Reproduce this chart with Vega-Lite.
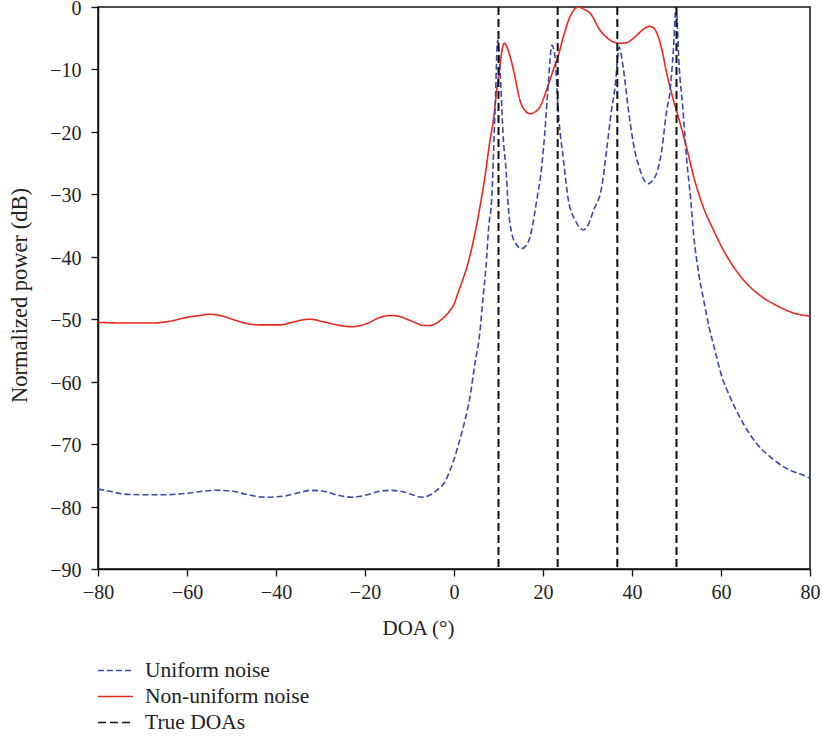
{
  "$schema": "https://vega.github.io/schema/vega-lite/v6.json",
  "width": 712,
  "height": 562,
  "autosize": {"type": "none"},
  "padding": {"left": 98, "top": 7, "right": 13, "bottom": 168},
  "background": "white",
  "config": {
    "view": {"stroke": "#111111", "strokeWidth": 1.5},
    "axis": {
      "grid": false,
      "domainColor": "#111111",
      "domainWidth": 1.5,
      "tickColor": "#111111",
      "tickWidth": 1.3,
      "tickSize": 7,
      "labelFont": "Liberation Serif",
      "labelFontSize": 20,
      "labelColor": "#222222",
      "labelFlush": false,
      "titleFont": "Liberation Serif",
      "titleFontSize": 21,
      "titleFontWeight": "normal",
      "titleColor": "#222222"
    },
    "legend": {
      "labelFont": "Liberation Serif",
      "labelFontSize": 21.5,
      "labelColor": "#222222",
      "labelLimit": 500
    }
  },
  "datasets": {
    "curves": [
      {"series": "Non-uniform noise", "doa": -80, "power": -50.5},
      {"series": "Non-uniform noise", "doa": -75, "power": -50.6},
      {"series": "Non-uniform noise", "doa": -70, "power": -50.6},
      {"series": "Non-uniform noise", "doa": -67.6, "power": -50.6},
      {"series": "Non-uniform noise", "doa": -64.5, "power": -50.4},
      {"series": "Non-uniform noise", "doa": -60, "power": -49.7},
      {"series": "Non-uniform noise", "doa": -57, "power": -49.4},
      {"series": "Non-uniform noise", "doa": -55, "power": -49.2},
      {"series": "Non-uniform noise", "doa": -52, "power": -49.5},
      {"series": "Non-uniform noise", "doa": -49, "power": -50.2},
      {"series": "Non-uniform noise", "doa": -46.5, "power": -50.7},
      {"series": "Non-uniform noise", "doa": -44, "power": -50.9},
      {"series": "Non-uniform noise", "doa": -39, "power": -50.9},
      {"series": "Non-uniform noise", "doa": -37, "power": -50.6},
      {"series": "Non-uniform noise", "doa": -35.3, "power": -50.3},
      {"series": "Non-uniform noise", "doa": -32.4, "power": -50.0},
      {"series": "Non-uniform noise", "doa": -29.4, "power": -50.4},
      {"series": "Non-uniform noise", "doa": -25.6, "power": -51.0},
      {"series": "Non-uniform noise", "doa": -23, "power": -51.2},
      {"series": "Non-uniform noise", "doa": -19.6, "power": -50.7},
      {"series": "Non-uniform noise", "doa": -16.6, "power": -49.7},
      {"series": "Non-uniform noise", "doa": -14, "power": -49.4},
      {"series": "Non-uniform noise", "doa": -12, "power": -49.6},
      {"series": "Non-uniform noise", "doa": -10.6, "power": -50.0},
      {"series": "Non-uniform noise", "doa": -8.5, "power": -50.6},
      {"series": "Non-uniform noise", "doa": -6.9, "power": -51.0},
      {"series": "Non-uniform noise", "doa": -5.4, "power": -51.0},
      {"series": "Non-uniform noise", "doa": -3.1, "power": -50.2},
      {"series": "Non-uniform noise", "doa": -1.0, "power": -48.7},
      {"series": "Non-uniform noise", "doa": 0, "power": -47.6},
      {"series": "Non-uniform noise", "doa": 1, "power": -45.6},
      {"series": "Non-uniform noise", "doa": 2, "power": -43.6},
      {"series": "Non-uniform noise", "doa": 3, "power": -41.4},
      {"series": "Non-uniform noise", "doa": 4, "power": -38.6},
      {"series": "Non-uniform noise", "doa": 5, "power": -35.2},
      {"series": "Non-uniform noise", "doa": 6, "power": -31.3},
      {"series": "Non-uniform noise", "doa": 7, "power": -27.0},
      {"series": "Non-uniform noise", "doa": 8, "power": -21.8},
      {"series": "Non-uniform noise", "doa": 9, "power": -17.3},
      {"series": "Non-uniform noise", "doa": 9.6, "power": -13.3},
      {"series": "Non-uniform noise", "doa": 10.3, "power": -9.6},
      {"series": "Non-uniform noise", "doa": 10.8, "power": -6.9},
      {"series": "Non-uniform noise", "doa": 11.3, "power": -5.8},
      {"series": "Non-uniform noise", "doa": 12.0, "power": -6.6},
      {"series": "Non-uniform noise", "doa": 12.6, "power": -7.9},
      {"series": "Non-uniform noise", "doa": 13.7, "power": -11.2},
      {"series": "Non-uniform noise", "doa": 14.8, "power": -14.9},
      {"series": "Non-uniform noise", "doa": 16.0, "power": -16.6},
      {"series": "Non-uniform noise", "doa": 17.1, "power": -17.1},
      {"series": "Non-uniform noise", "doa": 18.2, "power": -16.8},
      {"series": "Non-uniform noise", "doa": 19.3, "power": -16.0},
      {"series": "Non-uniform noise", "doa": 20.8, "power": -13.3},
      {"series": "Non-uniform noise", "doa": 22.3, "power": -10.1},
      {"series": "Non-uniform noise", "doa": 23.4, "power": -7.9},
      {"series": "Non-uniform noise", "doa": 24.6, "power": -4.7},
      {"series": "Non-uniform noise", "doa": 26.1, "power": -1.5},
      {"series": "Non-uniform noise", "doa": 27.3, "power": -0.2},
      {"series": "Non-uniform noise", "doa": 28.0, "power": 0},
      {"series": "Non-uniform noise", "doa": 29.0, "power": -0.3},
      {"series": "Non-uniform noise", "doa": 30.6, "power": -1.0},
      {"series": "Non-uniform noise", "doa": 32.8, "power": -3.7},
      {"series": "Non-uniform noise", "doa": 34.5, "power": -5.0},
      {"series": "Non-uniform noise", "doa": 35.8, "power": -5.6},
      {"series": "Non-uniform noise", "doa": 37.5, "power": -5.8},
      {"series": "Non-uniform noise", "doa": 38.8, "power": -5.7},
      {"series": "Non-uniform noise", "doa": 40.0, "power": -5.2},
      {"series": "Non-uniform noise", "doa": 41.1, "power": -4.5},
      {"series": "Non-uniform noise", "doa": 42.5, "power": -3.6},
      {"series": "Non-uniform noise", "doa": 43.9, "power": -3.1},
      {"series": "Non-uniform noise", "doa": 44.9, "power": -3.4},
      {"series": "Non-uniform noise", "doa": 45.6, "power": -4.2},
      {"series": "Non-uniform noise", "doa": 46.7, "power": -6.8},
      {"series": "Non-uniform noise", "doa": 47.8, "power": -10.6},
      {"series": "Non-uniform noise", "doa": 49.3, "power": -14.9},
      {"series": "Non-uniform noise", "doa": 50.8, "power": -18.6},
      {"series": "Non-uniform noise", "doa": 52.3, "power": -22.6},
      {"series": "Non-uniform noise", "doa": 53.8, "power": -27.0},
      {"series": "Non-uniform noise", "doa": 56.0, "power": -32.0},
      {"series": "Non-uniform noise", "doa": 58.3, "power": -35.7},
      {"series": "Non-uniform noise", "doa": 60.5, "power": -38.9},
      {"series": "Non-uniform noise", "doa": 62.8, "power": -41.6},
      {"series": "Non-uniform noise", "doa": 65.8, "power": -44.3},
      {"series": "Non-uniform noise", "doa": 68.8, "power": -46.2},
      {"series": "Non-uniform noise", "doa": 72.5, "power": -47.8},
      {"series": "Non-uniform noise", "doa": 76.3, "power": -49.0},
      {"series": "Non-uniform noise", "doa": 80.0, "power": -49.5},

      {"series": "Uniform noise", "doa": -80, "power": -77.2},
      {"series": "Uniform noise", "doa": -77, "power": -77.6},
      {"series": "Uniform noise", "doa": -74.4, "power": -78.0},
      {"series": "Uniform noise", "doa": -70, "power": -78.1},
      {"series": "Uniform noise", "doa": -65, "power": -78.1},
      {"series": "Uniform noise", "doa": -60.3, "power": -77.9},
      {"series": "Uniform noise", "doa": -57, "power": -77.6},
      {"series": "Uniform noise", "doa": -53.5, "power": -77.4},
      {"series": "Uniform noise", "doa": -50, "power": -77.5},
      {"series": "Uniform noise", "doa": -47, "power": -78.0},
      {"series": "Uniform noise", "doa": -42.3, "power": -78.5},
      {"series": "Uniform noise", "doa": -38, "power": -78.3},
      {"series": "Uniform noise", "doa": -35, "power": -77.8},
      {"series": "Uniform noise", "doa": -32.2, "power": -77.4},
      {"series": "Uniform noise", "doa": -29, "power": -77.6},
      {"series": "Uniform noise", "doa": -26, "power": -78.2},
      {"series": "Uniform noise", "doa": -22.9, "power": -78.5},
      {"series": "Uniform noise", "doa": -20, "power": -78.2},
      {"series": "Uniform noise", "doa": -17, "power": -77.6},
      {"series": "Uniform noise", "doa": -14.4, "power": -77.4},
      {"series": "Uniform noise", "doa": -11, "power": -77.7},
      {"series": "Uniform noise", "doa": -9, "power": -78.2},
      {"series": "Uniform noise", "doa": -7.3, "power": -78.5},
      {"series": "Uniform noise", "doa": -5.5, "power": -78.2},
      {"series": "Uniform noise", "doa": -3.9, "power": -77.4},
      {"series": "Uniform noise", "doa": -2.0, "power": -76.0},
      {"series": "Uniform noise", "doa": -0.9, "power": -74.2},
      {"series": "Uniform noise", "doa": 0.2, "power": -72.0},
      {"series": "Uniform noise", "doa": 1.3, "power": -69.3},
      {"series": "Uniform noise", "doa": 2.5, "power": -66.1},
      {"series": "Uniform noise", "doa": 3.6, "power": -62.4},
      {"series": "Uniform noise", "doa": 4.7, "power": -57.1},
      {"series": "Uniform noise", "doa": 5.7, "power": -52.8},
      {"series": "Uniform noise", "doa": 6.6, "power": -46.0},
      {"series": "Uniform noise", "doa": 7.2, "power": -41.5},
      {"series": "Uniform noise", "doa": 7.8, "power": -35.2},
      {"series": "Uniform noise", "doa": 8.5, "power": -30.4},
      {"series": "Uniform noise", "doa": 8.9, "power": -22.9},
      {"series": "Uniform noise", "doa": 9.3, "power": -14.9},
      {"series": "Uniform noise", "doa": 9.8, "power": -5.3},
      {"series": "Uniform noise", "doa": 10.3, "power": -9.6},
      {"series": "Uniform noise", "doa": 11.1, "power": -21.3},
      {"series": "Uniform noise", "doa": 11.7, "power": -26.1},
      {"series": "Uniform noise", "doa": 12.2, "power": -32.0},
      {"series": "Uniform noise", "doa": 13.0, "power": -36.3},
      {"series": "Uniform noise", "doa": 14.0, "power": -38.0},
      {"series": "Uniform noise", "doa": 15.2, "power": -38.7},
      {"series": "Uniform noise", "doa": 16.2, "power": -38.2},
      {"series": "Uniform noise", "doa": 17.1, "power": -36.8},
      {"series": "Uniform noise", "doa": 18.6, "power": -30.9},
      {"series": "Uniform noise", "doa": 19.7, "power": -25.6},
      {"series": "Uniform noise", "doa": 20.4, "power": -20.2},
      {"series": "Uniform noise", "doa": 21.2, "power": -12.2},
      {"series": "Uniform noise", "doa": 22.0, "power": -6.1},
      {"series": "Uniform noise", "doa": 22.7, "power": -8.0},
      {"series": "Uniform noise", "doa": 23.4, "power": -16.5},
      {"series": "Uniform noise", "doa": 24.6, "power": -24.5},
      {"series": "Uniform noise", "doa": 25.7, "power": -30.9},
      {"series": "Uniform noise", "doa": 27.2, "power": -34.1},
      {"series": "Uniform noise", "doa": 28.2, "power": -35.3},
      {"series": "Uniform noise", "doa": 29.1, "power": -35.7},
      {"series": "Uniform noise", "doa": 30.2, "power": -34.8},
      {"series": "Uniform noise", "doa": 31.4, "power": -32.5},
      {"series": "Uniform noise", "doa": 33.2, "power": -28.8},
      {"series": "Uniform noise", "doa": 34.3, "power": -22.9},
      {"series": "Uniform noise", "doa": 35.4, "power": -16.5},
      {"series": "Uniform noise", "doa": 36.2, "power": -12.8},
      {"series": "Uniform noise", "doa": 37.1, "power": -6.4},
      {"series": "Uniform noise", "doa": 38.0, "power": -9.6},
      {"series": "Uniform noise", "doa": 39.2, "power": -16.5},
      {"series": "Uniform noise", "doa": 40.3, "power": -21.8},
      {"series": "Uniform noise", "doa": 41.8, "power": -26.1},
      {"series": "Uniform noise", "doa": 42.8, "power": -27.8},
      {"series": "Uniform noise", "doa": 43.7, "power": -28.3},
      {"series": "Uniform noise", "doa": 44.6, "power": -27.8},
      {"series": "Uniform noise", "doa": 45.5, "power": -26.7},
      {"series": "Uniform noise", "doa": 46.7, "power": -22.9},
      {"series": "Uniform noise", "doa": 47.8, "power": -16.5},
      {"series": "Uniform noise", "doa": 48.5, "power": -13.8},
      {"series": "Uniform noise", "doa": 49.3, "power": -6.9},
      {"series": "Uniform noise", "doa": 49.9, "power": 0},
      {"series": "Uniform noise", "doa": 50.6, "power": -9.6},
      {"series": "Uniform noise", "doa": 51.4, "power": -16.0},
      {"series": "Uniform noise", "doa": 52.3, "power": -24.5},
      {"series": "Uniform noise", "doa": 53.2, "power": -30.9},
      {"series": "Uniform noise", "doa": 53.9, "power": -36.8},
      {"series": "Uniform noise", "doa": 55.0, "power": -42.7},
      {"series": "Uniform noise", "doa": 56.1, "power": -46.9},
      {"series": "Uniform noise", "doa": 57.3, "power": -51.2},
      {"series": "Uniform noise", "doa": 58.5, "power": -54.6},
      {"series": "Uniform noise", "doa": 60.2, "power": -59.2},
      {"series": "Uniform noise", "doa": 62.0, "power": -62.4},
      {"series": "Uniform noise", "doa": 65.0, "power": -66.7},
      {"series": "Uniform noise", "doa": 68.0, "power": -69.9},
      {"series": "Uniform noise", "doa": 71.0, "power": -72.0},
      {"series": "Uniform noise", "doa": 74.0, "power": -73.6},
      {"series": "Uniform noise", "doa": 77.0, "power": -74.6},
      {"series": "Uniform noise", "doa": 79.2, "power": -75.2},
      {"series": "Uniform noise", "doa": 80.0, "power": -75.5}
    ],
    "doas": [
      {"series": "True DOAs", "doa": 10},
      {"series": "True DOAs", "doa": 23.3},
      {"series": "True DOAs", "doa": 36.7},
      {"series": "True DOAs", "doa": 50}
    ]
  },
  "layer": [
    {
      "data": {"name": "curves"},
      "mark": {"type": "line", "strokeWidth": 1.6, "interpolate": "monotone", "clip": true},
      "encoding": {
        "x": {
          "field": "doa", "type": "quantitative",
          "scale": {"domain": [-80, 80], "nice": false},
          "axis": {"title": "DOA (°)", "values": [-80, -60, -40, -20, 0, 20, 40, 60, 80], "labelPadding": 6, "titleX": 320, "titleY": 65, "titleBaseline": "alphabetic", "titleAlign": "center"}
        },
        "y": {
          "field": "power", "type": "quantitative",
          "scale": {"domain": [-90, 0], "nice": false},
          "axis": {"title": "Normalized power (dB)", "titleFontSize": 22.5, "values": [-90, -80, -70, -60, -50, -40, -30, -20, -10, 0], "labelPadding": 10, "labelOffset": 1.5, "titleX": -79, "titleY": 288, "titleBaseline": "middle", "titleAlign": "center"}
        },
        "detail": {"field": "series"},
        "color": {
          "field": "series", "type": "nominal",
          "scale": {"domain": ["Uniform noise", "Non-uniform noise", "True DOAs"], "range": ["#3b47ab", "#e8281e", "#111111"]},
          "legend": {
            "title": null, "orient": "none", "legendX": -1, "legendY": 652,
            "symbolType": "stroke", "symbolSize": 1225, "symbolStrokeWidth": 1.5,
            "clipHeight": 23, "rowPadding": 3, "labelOffset": 11, "padding": 0,
            "labelLimit": 500
          }
        },
        "strokeDash": {
          "field": "series", "type": "nominal",
          "scale": {"domain": ["Uniform noise", "Non-uniform noise", "True DOAs"], "range": [[6, 3], [1, 0], [8, 4]]}
        }
      }
    },
    {
      "data": {"name": "doas"},
      "mark": {"type": "rule", "strokeWidth": 2},
      "encoding": {
        "x": {"field": "doa", "type": "quantitative"},
        "color": {"field": "series", "type": "nominal"},
        "strokeDash": {"field": "series", "type": "nominal"}
      }
    }
  ]
}
